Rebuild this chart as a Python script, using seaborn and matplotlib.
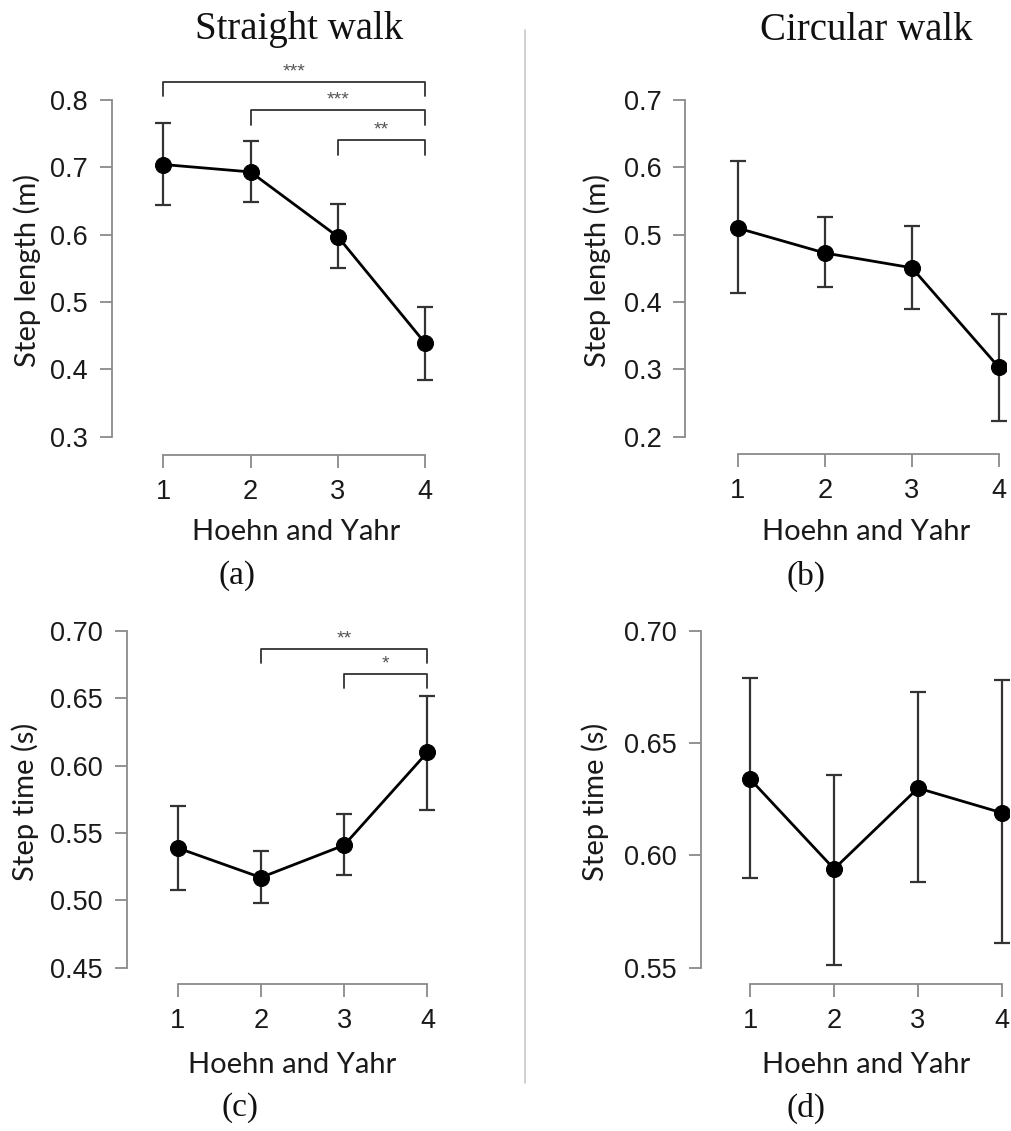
import numpy as np
import pandas as pd
import seaborn as sns
import matplotlib.pyplot as plt

# Hoehn and Yahr stage
hy_stage = [1, 2, 3, 4]

# step length (m), straight walk: mean and error bar ends
straight_len = [0.704, 0.693, 0.597, 0.439]
straight_len_lo = [0.644, 0.648, 0.550, 0.385]
straight_len_hi = [0.765, 0.739, 0.645, 0.493]

# step length (m), circular walk
circular_len = [0.510, 0.473, 0.451, 0.303]
circular_len_lo = [0.413, 0.422, 0.390, 0.224]
circular_len_hi = [0.609, 0.526, 0.513, 0.383]

# step time (s), straight walk
straight_time = [0.539, 0.517, 0.541, 0.610]
straight_time_lo = [0.508, 0.498, 0.519, 0.567]
straight_time_hi = [0.570, 0.537, 0.564, 0.652]

# step time (s), circular walk
circular_time = [0.634, 0.594, 0.630, 0.619]
circular_time_lo = [0.590, 0.551, 0.588, 0.561]
circular_time_hi = [0.679, 0.636, 0.673, 0.678]

# significance brackets: (from stage, to stage, level, stars)
sig_len = [(1, 4, 0.827, "***"), (2, 4, 0.785, "***"), (3, 4, 0.740, "**")]
sig_time = [(2, 4, 0.687, "**"), (3, 4, 0.668, "*")]

len_ticks_a = [0.3, 0.4, 0.5, 0.6, 0.7, 0.8]
len_ticks_b = [0.2, 0.3, 0.4, 0.5, 0.6, 0.7]
time_ticks_c = [0.45, 0.50, 0.55, 0.60, 0.65, 0.70]
time_ticks_d = [0.55, 0.60, 0.65, 0.70]

W, H = 1011, 1131
sns.set_style("ticks")
plt.rcParams["font.family"] = ["Liberation Sans", "DejaVu Sans"]

fig = plt.figure(figsize=(W / 100, H / 100), dpi=100)


def px_axes(spine_x, axis_y, xlim, ylim, sx, sy):
    left = spine_x / W
    bottom = (H - axis_y) / H
    width = (xlim[1] - xlim[0]) * sx / W
    height = (ylim[1] - ylim[0]) * sy / H
    ax = fig.add_axes([left, bottom, width, height])
    ax.set_xlim(xlim)
    ax.set_ylim(ylim)
    return ax


def ftext(x, y, s, **kw):
    fig.text(x / W, 1 - y / H, s, ha="center", va="center", **kw)


def draw_panel(ax, mean, lo, hi, yticks, fmt, sig=None, drop=0.02):
    df = pd.DataFrame({"stage": hy_stage, "value": mean})
    m = np.array(mean)
    err = [m - np.array(lo), np.array(hi) - m]
    ax.errorbar(hy_stage, mean, yerr=err, fmt="none", ecolor="#333333",
                elinewidth=1.6, capsize=6, capthick=1.6, clip_on=False, zorder=2)
    sns.lineplot(data=df, x="stage", y="value", ax=ax, color="black", lw=2,
                 marker="o", markersize=11.5, markeredgecolor="black", zorder=3)
    ax.set_xticks(hy_stage)
    ax.set_yticks(yticks)
    ax.set_yticklabels([fmt.format(t) for t in yticks])
    ax.spines["top"].set_visible(False)
    ax.spines["right"].set_visible(False)
    ax.spines["left"].set_bounds(yticks[0], yticks[-1])
    ax.spines["bottom"].set_bounds(hy_stage[0], hy_stage[-1])
    for sp in ("left", "bottom"):
        ax.spines[sp].set_color("#8a8a8a")
        ax.spines[sp].set_linewidth(1.3)
    ax.tick_params(colors="#8a8a8a", labelcolor="#1a1a1a", length=9, width=1.3,
                   labelsize=19.5, pad=8)
    ax.set_xlabel("")
    ax.set_ylabel("")
    if sig:
        for x0, x1, y, stars in sig:
            ax.plot([x0, x0, x1, x1], [y - drop, y, y, y - drop], color="#333333",
                    lw=1.3, clip_on=False)
            ax.text((x0 + x1) / 2, y + drop * 0.1, stars, ha="center", va="bottom",
                    fontsize=14, color="#555555")


ax_a = px_axes(111.7, 455, (0.41, 4.2), (0.273, 0.85), 87.3, 674)
draw_panel(ax_a, straight_len, straight_len_lo, straight_len_hi, len_ticks_a, "{:.1f}",
           sig_len, drop=0.022)
ax_b = px_axes(685, 454.3, (0.395, 4.08), (0.174, 0.72), 87.1, 673.3)
draw_panel(ax_b, circular_len, circular_len_lo, circular_len_hi, len_ticks_b, "{:.1f}")
ax_c = px_axes(126.7, 984.3, (0.39, 4.2), (0.4377, 0.71), 83.3, 1346.7)
draw_panel(ax_c, straight_time, straight_time_lo, straight_time_hi, time_ticks_c, "{:.2f}",
           sig_time, drop=0.0105)
ax_d = px_axes(700.7, 984.3, (0.41, 4.08), (0.5426, 0.71), 83.9, 2244.4)
draw_panel(ax_d, circular_time, circular_time_lo, circular_time_hi, time_ticks_d, "{:.2f}")

lab = dict(fontsize=21, family=["Lato", "DejaVu Sans"], color="#1a1a1a")
ftext(27, 270, "Step length (m)", rotation=90, **lab)
ftext(597, 270, "Step length (m)", rotation=90, **lab)
ftext(25, 802, "Step time (s)", rotation=90, **lab)
ftext(595, 802, "Step time (s)", rotation=90, **lab)
for x, y in [(296, 532), (866, 532), (292, 1065), (866, 1065)]:
    ftext(x, y, "Hoehn and Yahr", **lab)

ser = dict(family=["Liberation Serif", "DejaVu Serif"], color="#111111")
ftext(299, 30, "Straight walk", fontsize=28, **ser)
ftext(866, 30, "Circular walk", fontsize=28, **ser)
for x, y, s in [(237, 576, "(a)"), (806, 576, "(b)"), (240, 1108, "(c)"), (806, 1108, "(d)")]:
    ftext(x, y, s, fontsize=24, **ser)

fig.add_artist(plt.Line2D([525 / W, 525 / W], [1 - 30 / H, 1 - 1083 / H],
                          color="#c8c8c8", lw=1.2))

fig.savefig("out.png", dpi=100)
